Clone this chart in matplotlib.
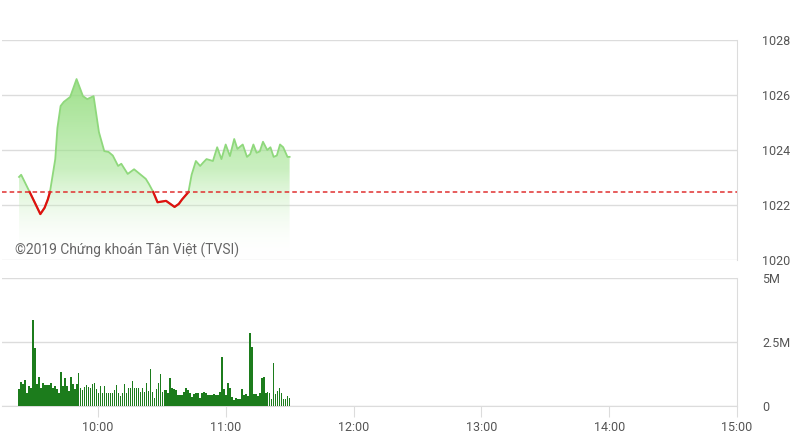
import numpy as np
import matplotlib
matplotlib.use("Agg")
import matplotlib.pyplot as plt
from matplotlib.colors import LinearSegmentedColormap

plt.rcParams["font.family"] = ["Roboto", "DejaVu Sans"]

# index price, minutes after 9:00
price_t = [23, 24, 28, 33, 35, 36.5, 37.5, 40, 41, 42.5, 44, 47, 50, 53, 55, 58, 60.5, 63,
           65, 67, 69.5, 71, 74, 77, 82.5, 84, 86, 88, 92, 96, 98, 99.5, 102.5, 104,
           106, 108, 109.5, 111, 114, 116, 118, 120, 122, 124, 125.5, 128, 130, 131.5,
           133, 134.5, 136, 137.5, 139.5, 141, 142.5, 144, 145.5, 147, 149, 150]
price = [1023.02, 1023.1, 1022.47, 1021.67, 1021.9, 1022.2, 1022.47, 1023.67, 1024.8,
         1025.6, 1025.75, 1025.93, 1026.58, 1025.96, 1025.85, 1025.96, 1024.65, 1023.96,
         1023.93, 1023.8, 1023.42, 1023.5, 1023.13, 1023.3, 1022.95, 1022.76, 1022.47,
         1022.1, 1022.15, 1021.93, 1022.04, 1022.2, 1022.47, 1023.1, 1023.6, 1023.42,
         1023.55, 1023.67, 1023.6, 1024.1, 1023.67, 1024.2, 1023.78, 1024.4, 1024.04,
         1024.2, 1023.75, 1023.85, 1024.2, 1023.9, 1023.95, 1024.3, 1024.0, 1024.1,
         1023.75, 1023.8, 1024.2, 1024.1, 1023.75, 1023.75]
ref_price = 1022.47

# volume in millions, one bar per minute-ish from 9:23 to 11:30
vol = [0.68, 0.95, 0.87, 1.0, 0.49, 0.77, 0.69, 3.36, 2.28, 0.85, 1.12, 0.72, 0.91,
       0.83, 0.83, 0.83, 0.89, 0.72, 0.77, 0.65, 0.49, 1.32, 0.78, 1.08, 0.77, 0.6,
       1.12, 0.87, 0.65, 0.85, 1.3, 0.69, 0.62, 0.74, 0.83, 0.76, 0.69, 0.87, 0.89,
       0.68, 0.49, 0.77, 0.52, 0.77, 0.49, 0.49, 0.49, 0.49, 0.61, 0.83, 0.49, 0.39,
       0.49, 0.85, 0.52, 0.7, 0.72, 0.96, 0.69, 0.69, 0.69, 0.53, 0.7, 0.53, 0.91,
       0.6, 1.43, 0.53, 0.33, 0.65, 0.89, 1.24, 0.53, 0.61, 0.62, 0.51, 1.08, 0.72,
       0.65, 0.61, 0.43, 0.43, 0.44, 0.53, 0.69, 0.62, 0.52, 0.35, 0.46, 0.49, 0.49,
       0.33, 0.49, 0.53, 0.49, 0.43, 0.43, 0.43, 0.46, 0.43, 0.43, 0.53, 1.9, 0.65,
       0.43, 0.91, 0.72, 0.35, 0.22, 0.3, 0.26, 0.26, 0.65, 0.42, 0.46, 0.39, 2.86,
       2.29, 0.46, 0.46, 0.39, 0.49, 1.11, 1.15, 0.52, 0.53, 0.52, 0.26, 1.69, 0.46,
       0.6, 0.72, 0.49, 0.26, 0.26, 0.39, 0.33]
vol_start, vol_end = 23, 150

xticks = [60, 120, 180, 240, 300, 360]
xtick_labels = ["10:00", "11:00", "12:00", "13:00", "14:00", "15:00"]
price_ticks = [1020, 1022, 1024, 1026, 1028]
vol_ticks = [0, 2.5, 5]
vol_labels = ["0", "2.5M", "5M"]

W, H = 794, 446
fig = plt.figure(figsize=(W / 100, H / 100), dpi=100)
left, right = 2 / W, 737 / W
ax1 = fig.add_axes([left, 1 - 260 / H, right - left, 220 / H])
ax2 = fig.add_axes([left, 1 - 406 / H, right - left, 128 / H])

grid_c = "#dcdcdc"
text_c = "#555555"

for ax in (ax1, ax2):
    ax.set_xlim(15, 360)
    for s in ("left", "top", "bottom"):
        ax.spines[s].set_visible(False)
    ax.spines["right"].set_color(grid_c)
    ax.yaxis.tick_right()
    ax.tick_params(axis="y", length=0, pad=18, labelsize=9, labelcolor=text_c)
    ax.grid(axis="y", color=grid_c, linewidth=1)
    ax.set_axisbelow(True)

# price panel
pt = np.array(price_t)
pp = np.array(price)
ax1.set_yticks(price_ticks)
ax1.set_xticks([])

poly = ax1.fill_between(pt, pp, 1020, color="none", linewidth=0)
cmap = LinearSegmentedColormap.from_list(
    "g", [(1, 1, 1, 0), (0.62, 0.89, 0.55, 0.55), (0.56, 0.86, 0.47, 0.85)])
grad = np.linspace(0, 1, 256).reshape(-1, 1)
img = ax1.imshow(grad, cmap=cmap, aspect="auto", origin="lower",
                 extent=[pt.min(), pt.max(), 1020, pp.max()], zorder=1)
img.set_clip_path(poly.get_paths()[0], transform=ax1.transData)
ax1.set_xlim(15, 360)
ax1.set_ylim(1020, 1028)

ax1.plot(pt, pp, color="#8fd87c", linewidth=1.3, zorder=3)
red = np.where(pp <= ref_price + 0.001, pp, np.nan)
ax1.plot(pt, red, color="#e01010", linewidth=1.6, zorder=4)
ax1.axhline(ref_price, color="#e03030", linestyle=(0, (3, 2)), linewidth=1.1, zorder=5)

ax1.text(15 / W, 1 - 250 / H, "©2019 Chứng khoán Tân Việt (TVSI)", transform=fig.transFigure,
         fontsize=10, color="#666666", va="center", ha="left",
         family=["Roboto", "DejaVu Sans"])

# volume panel
vt = np.linspace(vol_start, vol_end, len(vol))
ax2.bar(vt, vol, width=0.72, color="#1c7c1c", linewidth=0, zorder=3)
ax2.set_ylim(0, 5)
ax2.set_yticks(vol_ticks)
ax2.set_yticklabels(vol_labels)
ax2.spines["bottom"].set_visible(True)
ax2.spines["bottom"].set_color(grid_c)
ax2.set_xticks(xticks)
ax2.set_xticklabels(xtick_labels)
ax2.tick_params(axis="x", length=8, color=grid_c, labelsize=9, labelcolor=text_c, pad=3)

fig.savefig("out.png", dpi=100)
